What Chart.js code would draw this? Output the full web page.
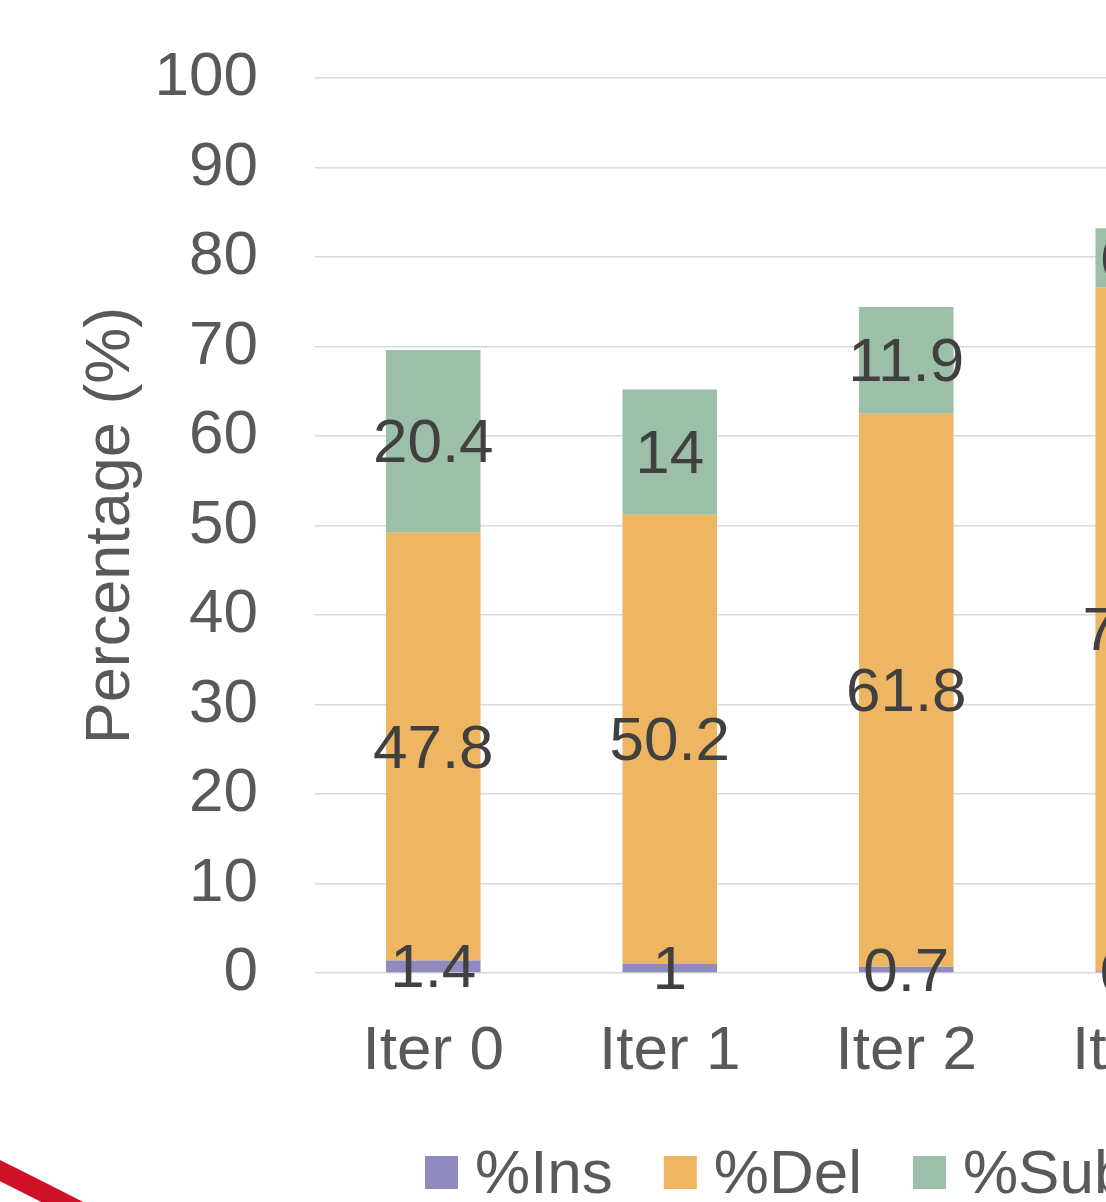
<!DOCTYPE html>
<html>
<head>
<meta charset="utf-8">
<script src="https://cdn.jsdelivr.net/npm/chart.js@4.4.0/dist/chart.umd.min.js"></script>
<style>
  html, body { margin: 0; padding: 0; background: #fff; overflow: hidden; width: 1106px; height: 1202px; }
  #wrap { position: relative; width: 1106px; height: 1202px; overflow: hidden; }
  #wrap canvas, #wrap svg { position: absolute; left: 0; top: 0; }
</style>
</head>
<body>
<div id="wrap">
  <canvas id="chart" width="1300" height="1202"></canvas>
  <svg width="1106" height="1202"><path d="M -40 1151 Q 40 1190 140 1242" stroke="#cf1128" stroke-width="19" fill="none"/></svg>
</div>
<script>
// Error breakdown per iteration
const categories = ['Iter 0', 'Iter 1', 'Iter 2', 'Iter 3'];
const insValues = [1.4, 1, 0.7, 0.2];
const delValues = [47.8, 50.2, 61.8, 76.4];
const subValues = [20.4, 14, 11.9, 6.6];
const seriesLabels = ['%Ins', '%Del', '%Sub'];
const yTickValues = [0, 10, 20, 30, 40, 50, 60, 70, 80, 90, 100];

const FONT = '"Liberation Sans", Arial, sans-serif';
const colors = ['#8f8ac0', '#eeb562', '#9bbfa8'];

// value labels centred in each stacked segment
const segmentLabels = {
  id: 'segmentLabels',
  afterDatasetsDraw(chart) {
    const ctx = chart.ctx;
    ctx.save();
    ctx.font = '62px ' + FONT;
    ctx.fillStyle = '#404040';
    ctx.textAlign = 'center';
    ctx.textBaseline = 'middle';
    chart.data.datasets.forEach((ds, i) => {
      const meta = chart.getDatasetMeta(i);
      meta.data.forEach((bar, j) => {
        const yMid = (bar.y + bar.base) / 2 + 4;
        ctx.fillText(String(ds.data[j]), bar.x, yMid);
      });
    });
    ctx.restore();
  }
};

// legend row below the axis
const legendRow = {
  id: 'legendRow',
  afterDraw(chart) {
    const ctx = chart.ctx;
    ctx.save();
    ctx.font = '62px ' + FONT;
    ctx.textBaseline = 'alphabetic';
    ctx.textAlign = 'left';
    let x = 425;
    chart.data.datasets.forEach(ds => {
      ctx.fillStyle = ds.backgroundColor;
      ctx.fillRect(x, 1156, 33, 33);
      x += 33 + 17;
      ctx.fillStyle = '#595959';
      ctx.fillText(ds.label, x, 1193);
      x += ctx.measureText(ds.label).width + 51;
    });
    ctx.restore();
  }
};

const seriesValues = [insValues, delValues, subValues];

new Chart(document.getElementById('chart'), {
  type: 'bar',
  data: {
    labels: categories,
    datasets: seriesValues.map((vals, i) => ({
      label: seriesLabels[i],
      data: vals,
      backgroundColor: colors[i],
      borderWidth: 0,
      categoryPercentage: 1,
      barPercentage: 0.4
    }))
  },
  options: {
    responsive: false,
    animation: false,
    devicePixelRatio: 1,
    layout: { padding: { top: 78, right: 39, left: 0, bottom: 0 } },
    plugins: { legend: { display: false }, tooltip: { enabled: false } },
    scales: {
      x: {
        stacked: true,
        grid: { display: false, drawTicks: false },
        border: { display: false },
        ticks: { font: { family: FONT, size: 62 }, color: '#595959', padding: 42 },
        afterFit(scale) { scale.height = 229; }
      },
      y: {
        stacked: true,
        min: 0,
        max: 100,
        afterBuildTicks(scale) { scale.ticks = yTickValues.map(v => ({ value: v })); },
        ticks: { font: { family: FONT, size: 62 }, color: '#595959', padding: 57 },
        grid: { color: '#d9d9d9', lineWidth: 1.5, drawTicks: false },
        border: { display: false },
        title: {
          display: true,
          text: 'Percentage (%)',
          font: { family: FONT, size: 63 },
          color: '#595959',
          padding: { top: 74, bottom: 0 }
        },
        afterFit(scale) {
          scale.width = 315;
          scale.paddingTop = 0;
          scale.paddingBottom = 0;
        }
      }
    }
  },
  plugins: [segmentLabels, legendRow]
});
</script>
</body>
</html>
